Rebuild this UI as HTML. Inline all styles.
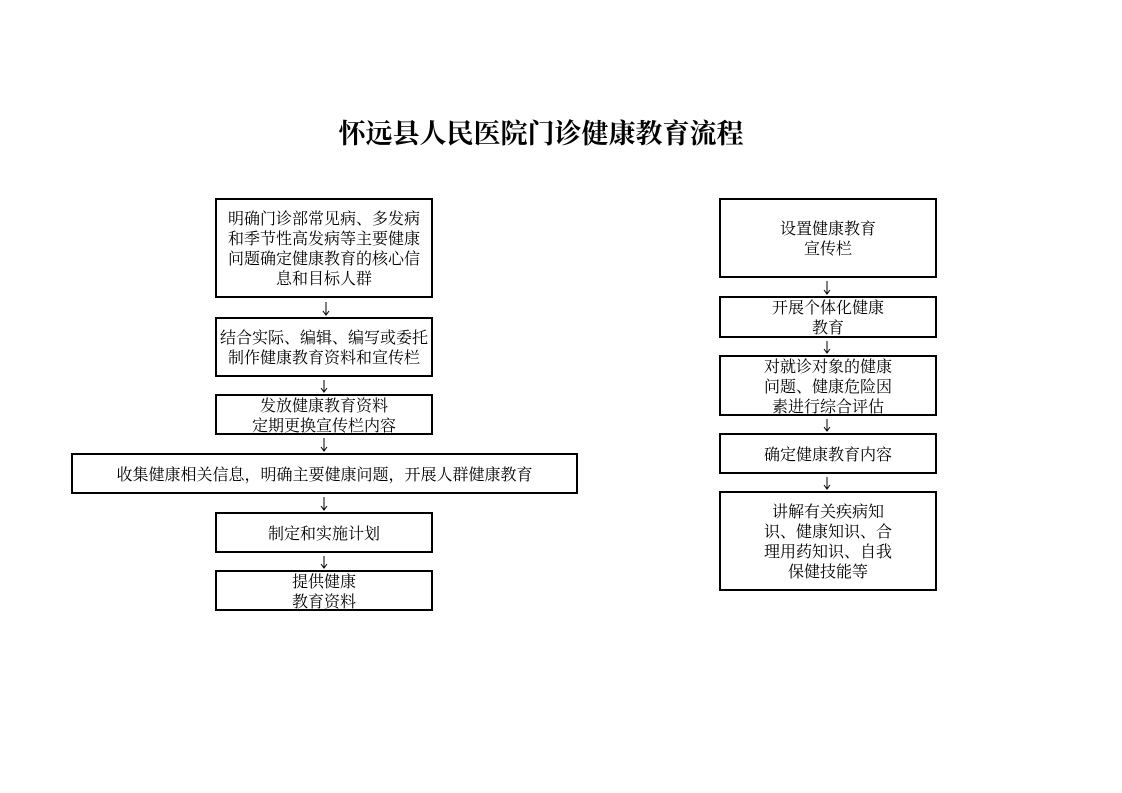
<!DOCTYPE html>
<html><head><meta charset="utf-8"><style>
body{margin:0;width:1122px;height:793px;background:#fff;position:relative;overflow:hidden;font-family:"Liberation Serif","Noto Serif CJK SC",serif;color:#000}
.b{position:absolute;border:2px solid #000;box-sizing:border-box;display:flex;align-items:center;justify-content:center;text-align:center;font-size:16px;line-height:20px;padding-top:4px}
.t{position:absolute;left:0;width:1082px;top:112px;text-align:center;font-size:27px;font-weight:bold;font-family:"Liberation Serif","Noto Serif CJK SC",serif}
svg{position:absolute;left:0;top:0}
</style></head><body>
<div class="t">怀远县人民医院门诊健康教育流程</div>

<div class="b" style="left:215px;top:198px;width:218px;height:100px">明确门诊部常见病、多发病<br>和季节性高发病等主要健康<br>问题确定健康教育的核心信<br>息和目标人群</div>
<div class="b" style="left:215px;top:317px;width:218px;height:60px">结合实际、编辑、编写或委托<br>制作健康教育资料和宣传栏</div>
<div class="b" style="left:215px;top:394px;width:218px;height:41px">发放健康教育资料<br>定期更换宣传栏内容</div>
<div class="b" style="left:71px;top:453px;width:507px;height:41px">收集健康相关信息，明确主要健康问题，开展人群健康教育</div>
<div class="b" style="left:215px;top:512px;width:218px;height:41px">制定和实施计划</div>
<div class="b" style="left:215px;top:570px;width:218px;height:41px">提供健康<br>教育资料</div>

<div class="b" style="left:719px;top:198px;width:218px;height:80px">设置健康教育<br>宣传栏</div>
<div class="b" style="left:719px;top:296px;width:218px;height:42px">开展个体化健康<br>教育</div>
<div class="b" style="left:719px;top:355px;width:218px;height:61px">对就诊对象的健康<br>问题、健康危险因<br>素进行综合评估</div>
<div class="b" style="left:719px;top:433px;width:218px;height:41px">确定健康教育内容</div>
<div class="b" style="left:719px;top:491px;width:218px;height:100px">讲解有关疾病知<br>识、健康知识、合<br>理用药知识、自我<br>保健技能等</div>

<svg width="1122" height="793" fill="none" stroke="#000" stroke-width="1">
<g id="l">
<path d="M326 302V315M323 311L326 315L329 311"/>
<path d="M324 380V392M321 388L324 392L327 388"/>
<path d="M324 438V451M321 447L324 451L327 447"/>
<path d="M324 497V510M321 506L324 510L327 506"/>
<path d="M324 556V568M321 564L324 568L327 564"/>
</g>
<path d="M827 281V294M824 290L827 294L830 290"/>
<path d="M827 341V353M824 349L827 353L830 349"/>
<path d="M827 419V431M824 427L827 431L830 427"/>
<path d="M827 477V489M824 485L827 489L830 485"/>
</svg>
</body></html>
